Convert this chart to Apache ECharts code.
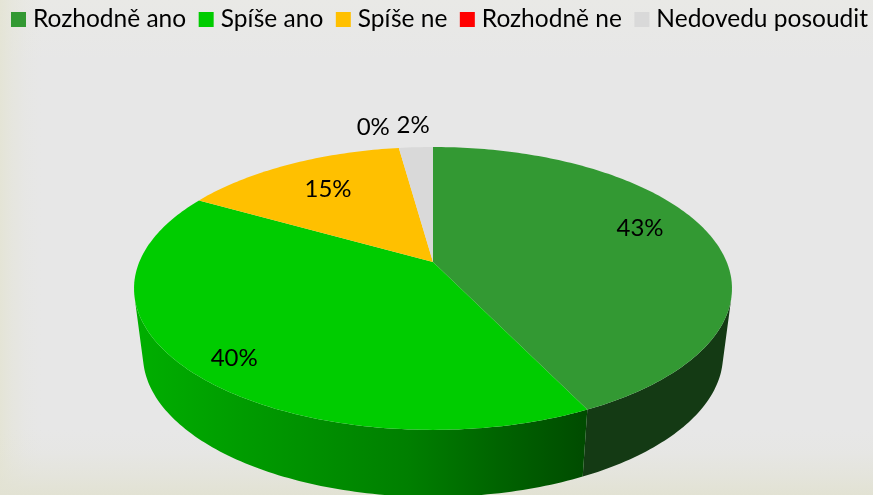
<!DOCTYPE html>
<html>
<head>
<meta charset="utf-8">
<title>Pie</title>
<script src="https://cdn.jsdelivr.net/npm/echarts@6/dist/echarts.min.js"></script>
<style>
    html, body { margin: 0; padding: 0; overflow: hidden; }
    #bg {
        width: 873px; height: 495px; position: relative;
        background:
            linear-gradient(to top, rgba(226,226,211,1) 0, rgba(226,226,211,0.55) 20px, rgba(226,226,211,0.15) 42px, rgba(226,226,211,0) 65px),
            linear-gradient(to right, rgba(228,228,212,0.9) 0, rgba(228,228,212,0.45) 12px, rgba(228,228,212,0.12) 26px, rgba(228,228,212,0) 42px),
            linear-gradient(to bottom, #e9e9e6 0, #e7e7e7 60px);
    }
    #chart { width: 873px; height: 495px; }
</style>
</head>
<body>
<div id="bg"><div id="chart"></div></div>
<script>
/*数据*/
var categories = ['Rozhodně ano', 'Spíše ano', 'Spíše ne', 'Rozhodně ne', 'Nedovedu posoudit'];
var percents = [42.8, 40.4, 14.6, 0, 2.2];

/*颜色*/
var topColors = ['#339933', '#00CC00', '#FFC000', '#FF0000', '#D9D9D9'];
var wallColors = ['#143A14', null, '#997300', '#990000', '#8C8C8C'];

/*透视参数*/
var CX = 433, CY = 262, RX = 293.7, RY = 136.5, PERSP = -0.187;
var DEPTH = 67, SHRINK = 0.97;
var FONT = 'Lato';

/*标签位置: 半径比例 + 微调*/
var labelRadius = [0.72, 0.72, 0.72, 1.2, 1.2];
var labelNudge = [[7, -12], [-29, 22], [2, 0], [-20, -2], [0, -3]];

var total = percents.reduce(function (a, b) { return a + b; }, 0);

// 把份额(0~1)和半径比例投影到屏幕
function project(frac, r) {
    var t = frac * Math.PI * 2;
    var x = Math.sin(t) * r, y = -Math.cos(t) * r;
    var w = 1 + PERSP * y;
    return [CX + RX * x / w, CY + RY * y / w];
}
function sunk(p) {
    return [CX + (p[0] - CX) * SHRINK, p[1] + DEPTH];
}

var leftWall = new echarts.graphic.LinearGradient(140, 0, 587, 0, [
    { offset: 0, color: '#00AE00' },
    { offset: 0.25, color: '#009A00' },
    { offset: 0.6, color: '#007F00' },
    { offset: 0.8, color: '#006400' },
    { offset: 1, color: '#004B00' }
], true);

var renderSlice = function (index) {
    return function (params, api) {
        var from = api.value(0) / total;
        var to = (api.value(0) + api.value(1)) / total;
        var children = [];
        var steps = Math.ceil((to - from) * 360);
        var rim = [];
        for (var i = 0; i <= steps; i++) {
            rim.push(project(from + (to - from) * i / steps, 1));
        }
        // 侧面: 只画朝前的那段
        var front = [];
        for (var k = 0; k < steps; k++) {
            var tx = rim[k + 1][0] - rim[k][0], ty = rim[k + 1][1] - rim[k][1];
            var low = sunk(rim[k]);
            var ex = low[0] - rim[k][0], ey = low[1] - rim[k][1];
            if (tx * ey - ty * ex < 0) {
                if (!front.length) { front.push(rim[k]); }
                front.push(rim[k + 1]);
            }
        }
        if (front.length) {
            children.push({
                type: 'polygon',
                z2: 1,
                silent: true,
                shape: { points: front.concat(front.map(sunk).reverse()) },
                style: { fill: wallColors[index] || leftWall }
            });
        }
        // 顶面
        if (steps > 0) {
            children.push({
                type: 'polygon',
                z2: 2,
                silent: true,
                shape: { points: [[CX, CY]].concat(rim) },
                style: { fill: topColors[index] }
            });
        }
        // 标签
        var pos = project((from + to) / 2, labelRadius[index]);
        children.push({
            type: 'text',
            z2: 3,
            silent: true,
            style: {
                x: pos[0] + labelNudge[index][0],
                y: pos[1] + labelNudge[index][1],
                text: Math.round(api.value(1)) + '%',
                fill: '#000',
                font: '24px ' + FONT,
                align: 'center',
                verticalAlign: 'middle'
            }
        });
        return { type: 'group', children: children };
    };
};

var series = [];
var start = 0;
categories.forEach(function (name, i) {
    series.push({
        name: name,
        type: 'custom',
        coordinateSystem: 'none',
        animation: false,
        itemStyle: { color: topColors[i] },
        renderItem: renderSlice(i),
        data: [[start, percents[i]]]
    });
    start += percents[i];
});

var chart = echarts.init(document.getElementById('chart'), null, { renderer: 'canvas' });
chart.setOption({
    animation: false,
    backgroundColor: 'transparent',
    legend: {
        left: 11 - 5,
        top: 7,
        padding: [0, 5],
        icon: 'rect',
        itemWidth: 15,
        itemHeight: 15,
        itemGap: 12.5,
        selectedMode: false,
        data: categories,
        textStyle: { fontFamily: FONT, fontSize: 24.5, color: '#000', padding: [0, 0, 0, 2] }
    },
    series: series
});
</script>
</body>
</html>
